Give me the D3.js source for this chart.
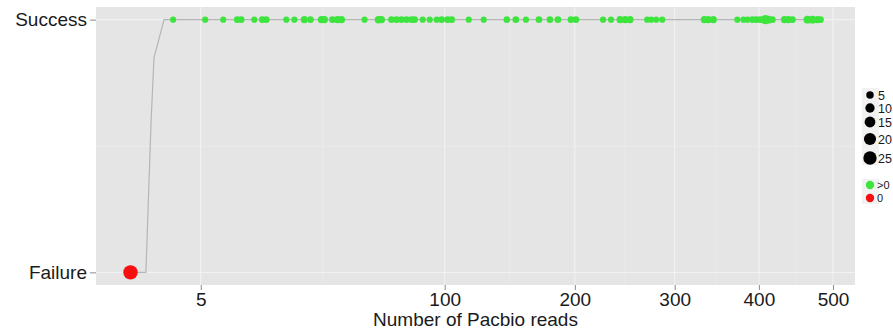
<!DOCTYPE html>
<html>
<head>
<meta charset="utf-8">
<script src="https://cdn.jsdelivr.net/npm/d3@7"></script>
<style>
  body { margin: 0; background: #fff; }
  text { font-family: "Liberation Sans", Arial, sans-serif; }
</style>
</head>
<body>
<main></main>
<script>
// reads per successful assembly, and a size value per point
const successReads = [1.84, 5.65, 8.71, 11.54, 12.42, 15.52, 17.6, 18.68, 24.6, 27.2,
    30.6, 32.8, 36.9, 38.1, 41.3, 43.4, 45.1, 55.5, 62.3, 63.8,
    69.0, 71.7, 74.4, 77.2, 80.1, 81.8, 86.5, 90.7, 95.0, 98.1,
    101.9, 104.5, 115.9, 126.4, 143.5, 150.4, 158.4, 169.0, 178.2, 185.1,
    196.5, 201.0, 226.2, 233.9, 242.8, 247.8, 252.8, 270.4, 274.6, 279.9,
    286.4, 333.5, 338.2, 344.1, 373.0, 380.5, 385.5, 391.8, 396.8, 401.9,
    408.3, 412.2, 417.4, 433.2, 438.5, 443.9, 464.3, 471.2, 478.1, 482.3];
const successSize = [2, 2, 2, 3, 3, 2, 3, 3, 2, 2,
    4, 3, 4, 4, 3, 4, 4, 2, 5, 4,
    3, 3, 3, 3, 3, 3, 2, 2, 2, 3,
    3, 3, 2, 2, 3, 3, 2, 3, 3, 3,
    3, 3, 2, 2, 4, 4, 4, 2, 2, 2,
    2, 4, 4, 4, 2, 2, 2, 3, 3, 3,
    10, 6, 3, 4, 4, 3, 6, 6, 4, 3];
const failureReads = [0];
const failureSize = [30];

// grey trend line
const trendReads = [0, 0.24, 0.43, 0.56, 1.14, 482.3];
const trendValue = [0, 0, 0.6, 0.85, 1, 1];

const xTicks = [5, 100, 200, 300, 400, 500];
const yLabels = ['Failure', 'Success'];
const sizeBreaks = [5, 10, 15, 20, 25];
const colorLabels = ['>0', '0'];
const colors = ['#3ee43e', '#f50f0f'];

const W = 893, H = 334;
const panel = { left: 96, right: 855, top: 7, bottom: 285 };

const svg = d3.select('main')
    .append('svg')
    .attr('width', W)
    .attr('height', H);

// x is a sqrt scale, expanded 5% each side like ggplot
const maxRead = d3.max(successReads);
const pw = panel.right - panel.left;
const pad = 0.05 * pw / 1.1;
const xScale = d3.scaleSqrt()
    .domain([0, maxRead])
    .range([panel.left + pad, panel.right - pad]);

const ph = panel.bottom - panel.top;
const ypad = 0.05 * ph / 1.1;
const yScale = d3.scaleLinear()
    .domain([0, 1])
    .range([panel.bottom - ypad, panel.top + ypad]);

const rScale = (v) => Math.sqrt(d3.scaleLinear().domain([1, 30]).range([8, 52])(v));

svg.append('rect')
    .attr('x', panel.left)
    .attr('y', panel.top)
    .attr('width', pw)
    .attr('height', ph)
    .attr('fill', '#e5e5e5');

// minor grid: midpoints in sqrt space
const minorX = d3.pairs(xTicks).map(([a, b]) => Math.pow((Math.sqrt(a) + Math.sqrt(b)) / 2, 2));
svg.append('g')
    .selectAll('line')
    .data(minorX)
    .enter()
    .append('line')
    .attr('x1', (d) => xScale(d))
    .attr('x2', (d) => xScale(d))
    .attr('y1', panel.top)
    .attr('y2', panel.bottom)
    .attr('stroke', '#ececec')
    .attr('stroke-width', 0.6);

svg.append('line')
    .attr('x1', panel.left)
    .attr('x2', panel.right)
    .attr('y1', yScale(0.5))
    .attr('y2', yScale(0.5))
    .attr('stroke', '#ececec')
    .attr('stroke-width', 0.6);

svg.append('g')
    .selectAll('line')
    .data(xTicks)
    .enter()
    .append('line')
    .attr('x1', (d) => xScale(d))
    .attr('x2', (d) => xScale(d))
    .attr('y1', panel.top)
    .attr('y2', panel.bottom)
    .attr('stroke', '#f4f4f4')
    .attr('stroke-width', 1);

svg.append('g')
    .selectAll('line')
    .data([0, 1])
    .enter()
    .append('line')
    .attr('x1', panel.left)
    .attr('x2', panel.right)
    .attr('y1', (d) => yScale(d))
    .attr('y2', (d) => yScale(d))
    .attr('stroke', '#f4f4f4')
    .attr('stroke-width', 1);

// axes
const xAxis = svg.append('g')
    .attr('transform', `translate(0, ${panel.bottom})`)
    .call(d3.axisBottom(xScale).tickValues(xTicks).tickSize(5).tickPadding(3).tickFormat(d3.format('d')));
const yAxis = svg.append('g')
    .attr('transform', `translate(${panel.left}, 0)`)
    .call(d3.axisLeft(yScale).tickValues([0, 1]).tickSize(6).tickPadding(3).tickFormat((d) => yLabels[d]));
[xAxis, yAxis].forEach((g) => {
    g.select('.domain').remove();
    g.selectAll('.tick line').attr('stroke', '#8a8a8a');
    g.selectAll('.tick text')
        .attr('fill', '#1a1a1a')
        .style('font-size', '19px')
        .style('font-family', '"Liberation Sans", Arial, sans-serif');
});

svg.append('text')
    .attr('x', (panel.left + panel.right) / 2)
    .attr('y', 326)
    .attr('text-anchor', 'middle')
    .attr('fill', '#1a1a1a')
    .style('font-size', '19px')
    .text('Number of Pacbio reads');

// trend line
const line = d3.line()
    .x((d) => xScale(d[0]))
    .y((d) => yScale(d[1]));
svg.append('path')
    .datum(d3.zip(trendReads, trendValue))
    .attr('d', line)
    .attr('stroke', '#b5b5b5')
    .attr('stroke-width', 1.2)
    .attr('fill', 'none');

// points
svg.append('g')
    .selectAll('circle')
    .data(d3.zip(successReads, successSize))
    .enter()
    .append('circle')
    .attr('cx', (d) => xScale(d[0]))
    .attr('cy', yScale(1))
    .attr('r', (d) => rScale(d[1]))
    .attr('fill', colors[0]);

svg.append('g')
    .selectAll('circle')
    .data(d3.zip(failureReads, failureSize))
    .enter()
    .append('circle')
    .attr('cx', (d) => xScale(d[0]))
    .attr('cy', yScale(0))
    .attr('r', (d) => rScale(d[1]))
    .attr('fill', colors[1]);

// legends
const keyX = 870;
const sizeY = [95, 108, 122, 139, 158];
svg.append('rect')
    .attr('x', keyX - 8).attr('y', 88)
    .attr('width', 17).attr('height', 77)
    .attr('fill', '#f2f2f2');
sizeBreaks.forEach((s, i) => {
    svg.append('circle')
        .attr('cx', keyX).attr('cy', sizeY[i])
        .attr('r', rScale(s))
        .attr('fill', '#000');
    svg.append('text')
        .attr('x', keyX + 8).attr('y', sizeY[i] + 4.5)
        .attr('fill', '#1a1a1a')
        .style('font-size', '12.5px')
        .text(s);
});

const colorY = [185, 198];
svg.append('rect')
    .attr('x', keyX - 8).attr('y', 179)
    .attr('width', 17).attr('height', 25)
    .attr('fill', '#f2f2f2');
colorLabels.forEach((c, i) => {
    svg.append('circle')
        .attr('cx', keyX).attr('cy', colorY[i])
        .attr('r', 4.2)
        .attr('fill', colors[i]);
    svg.append('text')
        .attr('x', keyX + 7).attr('y', colorY[i] + 4)
        .attr('fill', '#1a1a1a')
        .style('font-size', '11px')
        .text(c);
});
</script>
</body>
</html>
